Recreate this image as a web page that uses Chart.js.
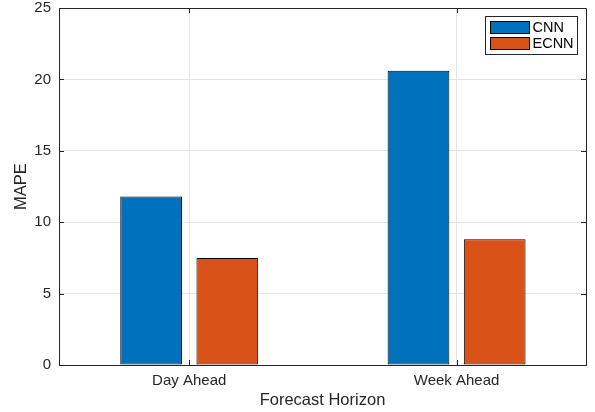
<!DOCTYPE html>
<html>
<head>
<meta charset="utf-8">
<script src="https://cdn.jsdelivr.net/npm/chart.js@4/dist/chart.umd.min.js"></script>
<style>
  html, body { margin: 0; padding: 0; background: #fff; }
  #wrap { width: 595px; height: 412px; }
</style>
</head>
<body>
<div id="wrap"><canvas id="grafico"></canvas></div>
<script>
const categories = ["Day Ahead", "Week Ahead"];
const cnnMape = [11.8, 20.6];
const ecnnMape = [7.5, 8.8];
const yTicks = [0, 5, 10, 15, 20, 25];
const xLimits = [0.513, 2.484]; // limites do eixo x como no MATLAB

const FONT = "'Liberation Sans', Arial, Helvetica, sans-serif";
const AXIS = "#262626";
const GRID = "#e4e4e4";

// caixa do eixo, marcas para dentro e legenda estilo MATLAB
const matlabBox = {
  id: "matlabBox",
  afterDraw(chart) {
    const c = chart.ctx;
    const a = chart.chartArea;
    const xs = chart.scales.x, ys = chart.scales.y;
    c.save();
    c.strokeStyle = AXIS;
    c.lineWidth = 1;
    c.beginPath();
    c.rect(Math.round(a.left) + 0.5, Math.round(a.top) + 0.5,
           Math.round(a.right - a.left), Math.round(a.bottom - a.top));
    c.stroke();
    const tl = 5;
    c.beginPath();
    yTicks.forEach(v => {
      const y = Math.round(ys.getPixelForValue(v)) + 0.5;
      c.moveTo(a.left, y); c.lineTo(a.left + tl, y);
      c.moveTo(a.right, y); c.lineTo(a.right - tl, y);
    });
    categories.forEach((_, i) => {
      const x = Math.round(xs.getPixelForValue(i + 1)) + 0.5;
      c.moveTo(x, a.bottom); c.lineTo(x, a.bottom - tl);
      c.moveTo(x, a.top); c.lineTo(x, a.top + tl);
    });
    c.stroke();

    // legenda
    const bw = 92, bh = 38;
    const bx = Math.round(a.right - 9 - bw) + 0.5;
    const by = Math.round(a.top + 8) + 0.5;
    c.fillStyle = "#fff";
    c.fillRect(bx, by, bw, bh);
    c.strokeStyle = AXIS;
    c.strokeRect(bx, by, bw, bh);
    c.font = "14.5px " + FONT;
    c.textBaseline = "middle";
    chart.data.datasets.forEach((ds, i) => {
      const sy = by + 5 + i * 16;
      c.fillStyle = ds.backgroundColor;
      c.fillRect(bx + 5, sy, 39, 12);
      c.strokeStyle = "#000";
      c.strokeRect(bx + 5, sy, 39, 12);
      c.fillStyle = "#000";
      c.fillText(ds.label, bx + 47, sy + 6.5);
    });
    c.restore();
  }
};

const ctx = document.getElementById("grafico").getContext("2d");

new Chart(ctx, {
  type: "bar",
  data: {
    labels: categories.map((_, i) => i + 1),
    datasets: [
      {
        label: "CNN",
        data: cnnMape,
        backgroundColor: "#0072BD",
        borderColor: "#000",
        borderWidth: 1,
        borderSkipped: false
      },
      {
        label: "ECNN",
        data: ecnnMape,
        backgroundColor: "#D95319",
        borderColor: "#000",
        borderWidth: 1,
        borderSkipped: false
      }
    ]
  },
  options: {
    responsive: true,
    maintainAspectRatio: false,
    animation: false,
    categoryPercentage: 0.57,
    barPercentage: 0.81,
    layout: {
      padding: { top: 0, right: 9, left: 0, bottom: 0 }
    },
    plugins: {
      legend: { display: false },
      tooltip: { enabled: false }
    },
    scales: {
      x: {
        type: "linear",
        min: xLimits[0],
        max: xLimits[1],
        offset: false,
        grid: { offset: false, color: GRID, drawTicks: false },
        border: { display: true, color: AXIS, width: 1 },
        afterBuildTicks: s => { s.ticks = categories.map((_, i) => ({ value: i + 1 })); },
        ticks: {
          color: AXIS,
          padding: 7,
          font: { family: FONT, size: 15 },
          callback: v => categories[v - 1]
        },
        title: {
          display: true,
          text: "Forecast Horizon",
          color: AXIS,
          font: { family: FONT, size: 16.5 },
          padding: { top: 0, bottom: 2 }
        },
        afterFit: s => { s.height = 47; s.paddingLeft = 0; s.paddingRight = 0; }
      },
      y: {
        min: 0,
        max: 25,
        grid: { color: GRID, drawTicks: false },
        border: { display: true, color: AXIS, width: 1 },
        ticks: {
          stepSize: 5,
          color: AXIS,
          padding: 8,
          font: { family: FONT, size: 15 }
        },
        title: {
          display: true,
          text: "MAPE",
          color: AXIS,
          font: { family: FONT, size: 16.5 },
          padding: { top: 12, bottom: 0 }
        },
        afterFit: s => { s.width = 59; s.paddingTop = 8; s.paddingBottom = 0; }
      }
    }
  },
  plugins: [matlabBox]
});
</script>
</body>
</html>
